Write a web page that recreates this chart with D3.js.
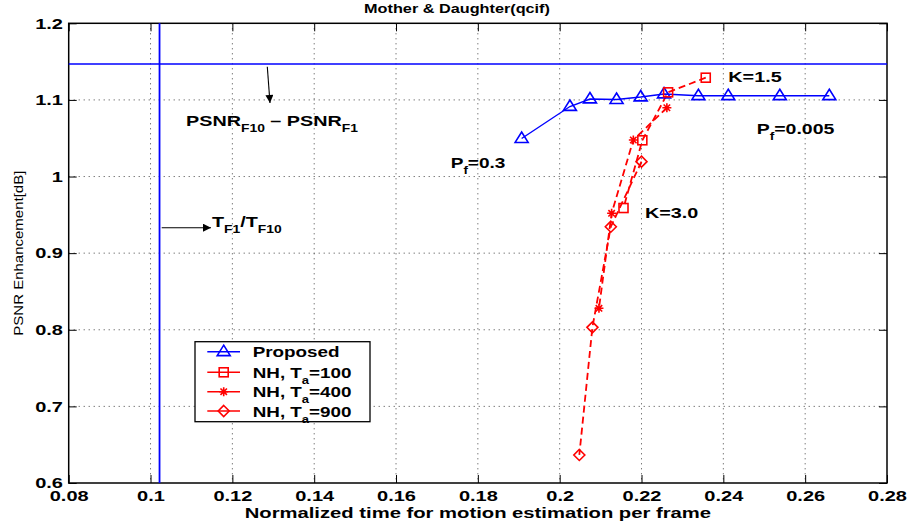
<!DOCTYPE html>
<html>
<head>
<meta charset="utf-8">
<script src="https://cdn.jsdelivr.net/npm/d3@7"></script>
<style>
  html, body { margin: 0; padding: 0; background: #fff; }
  svg { display: block; }
  text { font-family: "Liberation Sans", Arial, Helvetica, sans-serif; }
</style>
</head>
<body>
<svg id="chart" width="911" height="529"></svg>
<script>
// Axis ticks
const xTicks = [0.08, 0.10, 0.12, 0.14, 0.16, 0.18, 0.20, 0.22, 0.24, 0.26, 0.28];
const yTicks = [0.6, 0.7, 0.8, 0.9, 1.0, 1.1, 1.2];
const xTickLabels = ["0.08", "0.1", "0.12", "0.14", "0.16", "0.18", "0.2", "0.22", "0.24", "0.26", "0.28"];
const yTickLabels = ["0.6", "0.7", "0.8", "0.9", "1", "1.1", "1.2"];

// Proposed method (Pf from 0.3 down to 0.005)
const proposedTime = [0.1907, 0.2025, 0.2074, 0.2139, 0.2198, 0.2255, 0.2339, 0.2412, 0.2538, 0.2659];
const proposedPSNR = [1.0496, 1.0914, 1.1012, 1.1005, 1.1038, 1.1077, 1.1055, 1.1055, 1.1055, 1.1055];

// NH, Ta = 100 / 400 / 900 (K from 1.5 to 3.0)
const nh100Time = [0.2357, 0.2265, 0.2202, 0.2156];
const nh100PSNR = [1.1290, 1.1099, 1.0473, 0.9589];
const nh400Time = [0.2262, 0.2180, 0.2127, 0.2096];
const nh400PSNR = [1.0898, 1.0477, 0.9520, 0.8280];
const nh900Time = [0.2200, 0.2125, 0.2080, 0.2048];
const nh900PSNR = [1.0194, 0.9345, 0.8032, 0.6366];

// Reference levels: full-search PSNR gain and time ratio
const refPSNR = 1.147;
const refTime = 0.1022;

const seriesNames = ["Proposed", "NH, T", "NH, T", "NH, T"];
const seriesSubs = ["", "a", "a", "a"];
const seriesTails = ["", "=100", "=400", "=900"];

const svg = d3.select("#chart");
const W = 911, H = 529;
const margin = { left: 68.7, right: W - 887, top: 23.3, bottom: H - 483 };
const x = d3.scaleLinear().domain([0.08, 0.28]).range([margin.left, W - margin.right]);
const y = d3.scaleLinear().domain([0.6, 1.2]).range([H - margin.bottom, margin.top]);
const x0 = x.range()[0], x1 = x.range()[1], y0 = y.range()[0], y1 = y.range()[1];

const BLUE = "#0000ff", RED = "#ff0000";
// Helvetica-style lettering is drawn wide
const WIDE = 1.32;

// Grid
const grid = svg.append("g");
xTicks.slice(1, -1).forEach(t => {
  grid.append("line").attr("x1", x(t)).attr("x2", x(t)).attr("y1", y1).attr("y2", y0)
    .attr("stroke", "#444").attr("stroke-width", 1).attr("stroke-dasharray", "1,4");
});
yTicks.slice(1, -1).forEach(t => {
  grid.append("line").attr("x1", x0).attr("x2", x1).attr("y1", y(t)).attr("y2", y(t))
    .attr("stroke", "#444").attr("stroke-width", 1).attr("stroke-dasharray", "1,4");
});

// Axes with inward ticks
const fmtX = (d, i) => xTickLabels[i];
const fmtY = (d, i) => yTickLabels[i];
const axB = svg.append("g").attr("transform", `translate(0,${y0})`)
  .call(d3.axisBottom(x).tickValues(xTicks).tickFormat(fmtX).tickSizeInner(-8).tickSizeOuter(0).tickPadding(9));
const axL = svg.append("g").attr("transform", `translate(${x0},0)`)
  .call(d3.axisLeft(y).tickValues(yTicks).tickFormat(fmtY).tickSizeInner(-8).tickSizeOuter(0).tickPadding(4));
const axT = svg.append("g").attr("transform", `translate(0,${y1})`)
  .call(d3.axisTop(x).tickValues(xTicks).tickFormat("").tickSizeInner(-8).tickSizeOuter(0));
const axR = svg.append("g").attr("transform", `translate(${x1},0)`)
  .call(d3.axisRight(y).tickValues(yTicks).tickFormat("").tickSizeInner(-8).tickSizeOuter(0));
[axB, axL, axT, axR].forEach(a => {
  a.select(".domain").remove();
  a.selectAll(".tick line").attr("stroke", "#000").attr("stroke-width", 1);
  a.selectAll("text").attr("fill", "#000").style("font-size", "14px").style("font-weight", "bold")
    .style("font-family", "'Liberation Sans', Arial, sans-serif")
    .attr("transform", "scale(1.43,1)");
});
axB.selectAll("text").attr("dy", "0.62em");
axL.selectAll("text").attr("dy", "0.34em");

// Frame
svg.append("rect").attr("x", x0).attr("y", y1).attr("width", x1 - x0).attr("height", y0 - y1)
  .attr("fill", "none").attr("stroke", "#000").attr("stroke-width", 1.5);

// Reference lines
svg.append("line").attr("x1", x0).attr("x2", x1).attr("y1", y(refPSNR)).attr("y2", y(refPSNR))
  .attr("stroke", BLUE).attr("stroke-width", 1.5);
svg.append("line").attr("x1", x(refTime)).attr("x2", x(refTime)).attr("y1", y1).attr("y2", y0)
  .attr("stroke", BLUE).attr("stroke-width", 1.8);

// Marker painters
function triangle(g, cx, cy, color) {
  const s = 6.5;
  g.append("path").attr("d", `M${cx},${cy - s}L${cx + s},${cy + s * 0.6}L${cx - s},${cy + s * 0.6}Z`)
    .attr("fill", "none").attr("stroke", color).attr("stroke-width", 1.6);
}
function square(g, cx, cy, color) {
  const s = 4.5;
  g.append("rect").attr("x", cx - s).attr("y", cy - s).attr("width", 2 * s).attr("height", 2 * s)
    .attr("fill", "none").attr("stroke", color).attr("stroke-width", 1.6);
}
function diamond(g, cx, cy, color) {
  const s = 5.5;
  g.append("path").attr("d", `M${cx},${cy - s}L${cx + s},${cy}L${cx},${cy + s}L${cx - s},${cy}Z`)
    .attr("fill", "none").attr("stroke", color).attr("stroke-width", 1.6);
}
function asterisk(g, cx, cy, color) {
  const s = 4.5, d = s * 0.72;
  g.append("path").attr("d",
    `M${cx - s},${cy}L${cx + s},${cy}M${cx},${cy - s}L${cx},${cy + s}` +
    `M${cx - d},${cy - d}L${cx + d},${cy + d}M${cx - d},${cy + d}L${cx + d},${cy - d}`)
    .attr("fill", "none").attr("stroke", color).attr("stroke-width", 1.6);
}

const line = d3.line().x(d => x(d[0])).y(d => y(d[1]));
const series = [
  { xs: proposedTime, ys: proposedPSNR, color: BLUE, dash: null, marker: triangle },
  { xs: nh100Time, ys: nh100PSNR, color: RED, dash: "7,4", marker: square },
  { xs: nh400Time, ys: nh400PSNR, color: RED, dash: "7,4", marker: asterisk },
  { xs: nh900Time, ys: nh900PSNR, color: RED, dash: "7,4", marker: diamond }
];
const marks = svg.append("g");
series.forEach(s => {
  const pts = s.xs.map((v, i) => [v, s.ys[i]]);
  marks.append("path").datum(pts).attr("d", line).attr("fill", "none")
    .attr("stroke", s.color).attr("stroke-width", s.dash ? 1.8 : 1.4)
    .attr("stroke-dasharray", s.dash);
});
series.forEach(s => {
  s.xs.forEach((v, i) => s.marker(marks, x(v), y(s.ys[i]), s.color));
});

// Bold text with subscripts, widened horizontally: parts = [[text, isSub], ...]
function richText(parent, px, py, parts, size, subSize, sx) {
  const g = parent.append("g").attr("transform", `translate(${px},${py}) scale(${sx},1)`);
  const t = g.append("text").attr("x", 0).attr("y", 0)
    .style("font-size", size + "px").style("font-weight", "bold").attr("fill", "#000");
  let lowered = false;
  parts.forEach(([str, sub]) => {
    const ts = t.append("tspan").text(str);
    if (sub) {
      ts.style("font-size", subSize + "px");
      if (!lowered) { ts.attr("dy", 6); lowered = true; }
    } else if (lowered) { ts.attr("dy", -6); lowered = false; }
  });
  return g;
}

// Title and axis titles
svg.append("g").attr("transform", `translate(457,13) scale(1.25,1)`)
  .append("text").attr("text-anchor", "middle")
  .style("font-size", "13px").style("font-weight", "bold").text("Mother & Daughter(qcif)");
svg.append("g").attr("transform", `translate(${(x0 + x1) / 2},518) scale(1.35,1)`)
  .append("text").attr("text-anchor", "middle")
  .style("font-size", "15px").style("font-weight", "bold")
  .text("Normalized time for motion estimation per frame");
svg.append("g").attr("transform", `translate(23,${(y0 + y1) / 2}) rotate(-90) scale(1.2,1)`)
  .append("text").attr("text-anchor", "middle")
  .style("font-size", "12.5px")
  .text("PSNR Enhancement[dB]");

// Annotations
const defs = svg.append("defs");
defs.append("marker").attr("id", "head").attr("viewBox", "0 0 10 10").attr("refX", 10).attr("refY", 5)
  .attr("markerWidth", 10).attr("markerHeight", 8).attr("markerUnits", "userSpaceOnUse").attr("orient", "auto")
  .append("path").attr("d", "M0,0L10,5L0,10Z").attr("fill", "#000");

svg.append("line").attr("x1", 267.3).attr("y1", 66.7).attr("x2", 270).attr("y2", 103)
  .attr("stroke", "#000").attr("stroke-width", 1.1).attr("marker-end", "url(#head)");
svg.append("line").attr("x1", 161.7).attr("y1", 227.7).attr("x2", 211).attr("y2", 227.7)
  .attr("stroke", "#000").attr("stroke-width", 1.1).attr("marker-end", "url(#head)");

richText(svg, 186, 126, [["PSNR", false], ["F10", true], [" \u2013 PSNR", false], ["F1", true]], 15, 10.5, WIDE);
richText(svg, 212, 226.7, [["T", false], ["F1", true], ["/T", false], ["F10", true]], 15, 10.5, WIDE);
richText(svg, 450.7, 168.3, [["P", false], ["f", true], ["=0.3", false]], 15, 10.5, 1.27);
richText(svg, 756.7, 134, [["P", false], ["f", true], ["=0.005", false]], 15, 10.5, 1.3);
richText(svg, 728.3, 81.7, [["K=1.5", false]], 15, 10.5, WIDE);
richText(svg, 645, 218.3, [["K=3.0", false]], 15, 10.5, WIDE);

// Legend
const lg = svg.append("g");
lg.append("rect").attr("x", 195).attr("y", 341.7).attr("width", 175).attr("height", 80)
  .attr("fill", "#fff").attr("stroke", "#000").attr("stroke-width", 1.3);
const rowsY = [351.7, 372.3, 391.7, 411];
series.forEach((s, i) => {
  const ry = rowsY[i];
  lg.append("line").attr("x1", 207.3).attr("x2", 240).attr("y1", ry).attr("y2", ry)
    .attr("stroke", s.color).attr("stroke-width", 1.6);
  s.marker(lg, 223.7, ry, s.color);
  const parts = [[seriesNames[i], false]];
  if (seriesSubs[i]) { parts.push([seriesSubs[i], true]); parts.push([seriesTails[i], false]); }
  richText(lg, 252.7, ry + 5.5, parts, 14.5, 10, 1.3);
});
</script>
</body>
</html>
